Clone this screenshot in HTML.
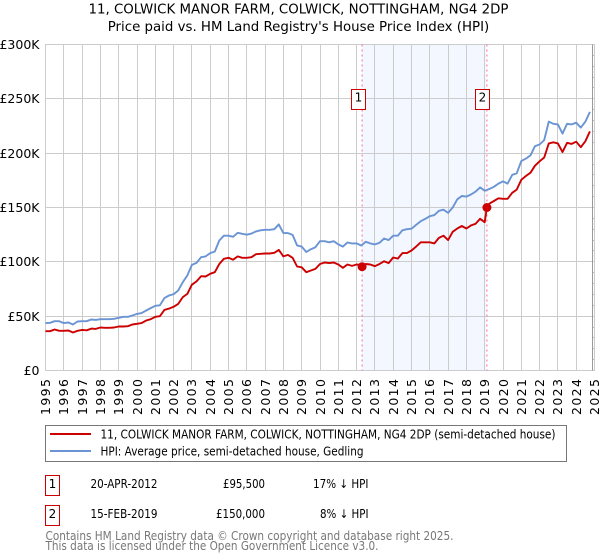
<!DOCTYPE html>
<html><head><meta charset="utf-8">
<style>
html,body{margin:0;padding:0;background:#fff;width:600px;height:560px;overflow:hidden}
svg{display:block}
text{font-family:"DejaVu Sans","Liberation Sans",sans-serif;fill:#000}
</style></head>
<body>
<svg id="chart" width="600" height="560" viewBox="0 0 600 560" xmlns="http://www.w3.org/2000/svg">
<text x="298.5" y="13.5" text-anchor="middle" font-size="13.35">11, COLWICK MANOR FARM, COLWICK, NOTTINGHAM, NG4 2DP</text>
<text x="298.5" y="31" text-anchor="middle" font-size="13.35">Price paid vs. HM Land Registry's House Price Index (HPI)</text>
<g id="shade"></g>
<g id="grid"></g>
<g id="edge"></g>
<g id="ylabels"></g>
<g id="xlabels"></g>
<g id="sales"></g>
<g id="lines"></g>
<g id="dots"></g>
<g id="boxes"></g>
<g>
<rect x="45.5" y="425.5" width="521" height="36" fill="#fff" stroke="#777"/>
<line x1="50" x2="91" y1="434" y2="434" stroke="#c00" stroke-width="2"/>
<line x1="50" x2="91" y1="451" y2="451" stroke="#6a94d4" stroke-width="2"/>
<text x="100.5" y="438.5" font-size="12" textLength="455" lengthAdjust="spacingAndGlyphs">11, COLWICK MANOR FARM, COLWICK, NOTTINGHAM, NG4 2DP (semi-detached house)</text>
<text x="100.5" y="455.5" font-size="12" textLength="263" lengthAdjust="spacingAndGlyphs">HPI: Average price, semi-detached house, Gedling</text>
</g>
<g>
<rect x="45.5" y="475.5" width="14" height="20" fill="#fff" stroke="#c00"/>
<text x="52.5" y="488" text-anchor="middle" font-size="12">1</text>
<text x="90.5" y="488" font-size="12" textLength="67" lengthAdjust="spacingAndGlyphs">20-APR-2012</text>
<text x="223" y="488" font-size="12" textLength="42" lengthAdjust="spacingAndGlyphs">£95,500</text>
<text x="313" y="488" font-size="12" textLength="55.5" lengthAdjust="spacingAndGlyphs">17% ↓ HPI</text>
<rect x="45.5" y="505.5" width="14" height="20" fill="#fff" stroke="#c00"/>
<text x="52.5" y="518" text-anchor="middle" font-size="12">2</text>
<text x="90.5" y="518" font-size="12" textLength="67" lengthAdjust="spacingAndGlyphs">15-FEB-2019</text>
<text x="216" y="518" font-size="12" textLength="49" lengthAdjust="spacingAndGlyphs">£150,000</text>
<text x="320" y="518" font-size="12" textLength="48.5" lengthAdjust="spacingAndGlyphs">8% ↓ HPI</text>
</g>
<text x="45.5" y="540" font-size="12" style="fill:#777" textLength="408" lengthAdjust="spacingAndGlyphs">Contains HM Land Registry data © Crown copyright and database right 2025.</text>
<text x="45.5" y="550" font-size="12" style="fill:#777" textLength="333" lengthAdjust="spacingAndGlyphs">This data is licensed under the Open Government Licence v3.0.</text>
</svg>
<script>
const yearTicks = [1995,1996,1997,1998,1999,2000,2001,2002,2003,2004,2005,2006,2007,2008,2009,2010,2011,2012,2013,2014,2015,2016,2017,2018,2019,2020,2021,2022,2023,2024,2025];
const priceTicks = [0,50,100,150,200,250,300];
const priceTickLabels = ['£0','£50K','£100K','£150K','£200K','£250K','£300K'];
const minorPriceTicks = [10,20,30,40,60,70,80,90,110,120,130,140,160,170,180,190,210,220,230,240,260,270,280,290];
const seriesStartYear = 1995;
// quarterly values, £ thousands, 1995 Q1 to 2024 Q4
const hpiValues = [
43.6,43.9,45.4,45.4, 43.6,44.2,42.3,45.1, 45.4,45.4,46.9,46.6, 47.2,47.2,47.2,47.6,
48.5,49.4,49.4,50.6, 52.1,52.8,55.2,57.4, 59.5,60,66.6,69, 70.2,73.6,81.3,87.4,
97.2,99,104.3,105, 108,109.5,119.6,124, 124,123,126.7,125.8, 125,126,128,129,
129.5,129.5,130,134.4, 126.4,126.4,124.8,115, 114,109,111.6,113.5, 119,119,118,119,
116,114,117.8,117, 117,115,118.4,117, 116,117.5,121.5,120, 124,124,129,130,
130.5,134,137.4,139.5, 142,143,147,148, 145,150,157.5,160.6, 160,162,164.6,168.5,
165.5,167,169,172, 174,172,180,181.5, 192.7,195,198,206.5, 208,212,229,227,
226.5,218,227,226.5, 228,223.5,229,238];
const priceValues = [
36.2,36.2,37.7,36.5, 36.5,36.8,35,36.5, 37.4,37,38.6,38.3, 39.6,39.3,39.3,39.6,
40.5,40.5,40.8,42.3, 43,43.6,46,47.2, 49.4,50,55.8,57, 58.6,61.3,67.5,70.5,
79,82,86.8,86.5, 89,90.5,98,102.8, 103.7,102,105,103.7, 103.7,104.3,107,107.4,
107.7,107.7,108.3,111, 105,106.4,103.7,95.7, 95,90.5,92,93.5, 98,99.4,98.8,99.4,
97.5,94.5,97.5,96.3, 97.5,97,98,97.5, 96,98,100.6,98.8, 104,103,108,108,
110.4,114,118,118, 118,117,122,124, 120,127.6,130.7,133, 130.7,133.5,135,139.6,
136.5,153.5,156,158.5, 158,158,163.5,166.5, 175.5,179,182,188.5, 192.5,196,209,210,
209,201,209.5,208.5, 210.5,205.5,211,220];
const saleIds = ['1','2'];
const saleYears = [2012.3,2019.12];
const salePrices = [95.5,150];

const NS = 'http://www.w3.org/2000/svg';
const xOf = y => 45.5 + (y - 1995) * 18.3;
const yOf = v => 370.5 - v * 1.0867;
const snap = p => Math.round(p - 0.5) + 0.5;
function mk(parent, tag, attrs, text){
  const el = document.createElementNS(NS, tag);
  for (const k in attrs) el.setAttribute(k, attrs[k]);
  if (text !== undefined) el.textContent = text;
  document.getElementById(parent).appendChild(el);
  return el;
}
let el;
el = mk('shade','rect',{x:xOf(saleYears[0]),y:44.5,width:xOf(saleYears[1])-xOf(saleYears[0])-1,height:326,fill:'#f3f7ff'});



yearTicks.forEach(t => {
  const x = snap(xOf(t));
  el = mk('grid','line',{x1:x,x2:x,y1:44,y2:371,stroke:'#ccc','stroke-width':1});
  
  
  el = mk('xlabels','text',{'font-size':12.5,'text-anchor':'start',textLength:36,lengthAdjust:'spacing',transform:'translate('+(x+4.5)+',415) rotate(-90)'}, String(t));
  
  
});
priceTicks.forEach((t,i) => {
  const y = snap(yOf(t));
  el = mk('grid','line',{x1:45,x2:595,y1:y,y2:y,stroke:'#ccc','stroke-width':1});
  
  
  el = mk('ylabels','text',{x:39.5,y:y+4.5,'font-size':12.5,'text-anchor':'end'}, priceTickLabels[i]);
  
  
});
el = mk('edge','line',{x1:592.5,x2:592.5,y1:44.5,y2:370.5,stroke:'#999','stroke-width':1});


minorPriceTicks.forEach(t => {
  const y = snap(yOf(t));
  el = mk('edge','line',{x1:593,x2:594,y1:y,y2:y,stroke:'#bbb','stroke-width':1});
  
  
});

saleYears.forEach((s,i) => {
  const x = xOf(s);
  el = mk('sales','line',{x1:x,x2:x,y1:44.5,y2:370.5,stroke:'#f47',"stroke-width":1,'stroke-dasharray':'2 3','opacity':0.8});
  
  
  el = mk('dots','circle',{cx:x,cy:yOf(salePrices[i]),r:4.5,fill:'#c00'});
  
  
  el = mk('boxes','rect',{x:snap(x-11),y:89.5,width:14,height:20,fill:'#fff',stroke:'#c00'});
  
  
  el = mk('boxes','text',{x:snap(x-11)+7,y:101.5,'font-size':12,'text-anchor':'middle'}, saleIds[i]);
  
  
});

const hpiPts = hpiValues.map((v,i) => [seriesStartYear + i/4, v]);
const pricePts = priceValues.map((v,i) => [seriesStartYear + i/4, v])
  .concat(saleYears.map((s,i) => [s, salePrices[i]]))
  .sort((a,b) => a[0]-b[0]);
const pathOf = pts => pts.map((p,i) => (i?'L':'M') + xOf(p[0]).toFixed(1) + ' ' + yOf(p[1]).toFixed(1)).join('');
el = mk('lines','path',{d:pathOf(hpiPts),fill:'none',stroke:'#6a94d4','stroke-width':1.9,'stroke-linejoin':'round'});


el = mk('lines','path',{d:pathOf(pricePts),fill:'none',stroke:'#c00','stroke-width':1.9,'stroke-linejoin':'round'});


</script>
</body></html>
